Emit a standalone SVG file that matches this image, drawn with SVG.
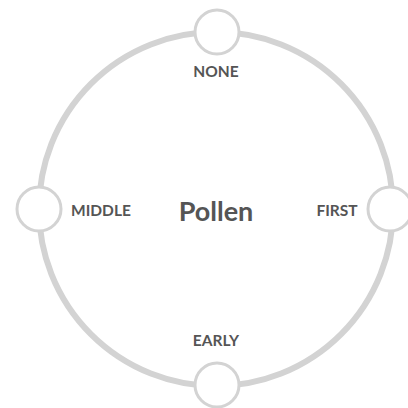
<svg xmlns="http://www.w3.org/2000/svg" width="408" height="408" viewBox="0 0 408 408">
<style>
.ring{fill:none;stroke:#d3d3d3;stroke-width:6}
.node circle{fill:#fff;stroke:#d3d3d3;stroke-width:3}
.lbl{font-family:Lato,"Liberation Sans",sans-serif;font-weight:bold;font-size:15.5px;fill:#555;text-anchor:middle;dominant-baseline:central}
.title{font-family:Lato,"Liberation Sans",sans-serif;font-weight:bold;font-size:27px;fill:#555;text-anchor:middle;dominant-baseline:central}
</style>
<rect width="408" height="408" fill="#fff"/>
<g id="connectors">
<circle class="ring" cx="216" cy="209" r="177"/>
</g>
<g id="center"><text class="title" x="216" y="210">Pollen</text></g>
<g id="none" class="node"><circle cx="217" cy="32" r="22"/><text class="lbl" x="216" y="71">NONE</text></g>
<g id="first" class="node"><circle cx="390" cy="209" r="22"/><text class="lbl" x="337" y="210">FIRST</text></g>
<g id="early" class="node"><circle cx="217" cy="385" r="22"/><text class="lbl" x="216" y="340">EARLY</text></g>
<g id="middle" class="node"><circle cx="39" cy="209" r="22"/><text class="lbl" x="101" y="210">MIDDLE</text></g>
</svg>
